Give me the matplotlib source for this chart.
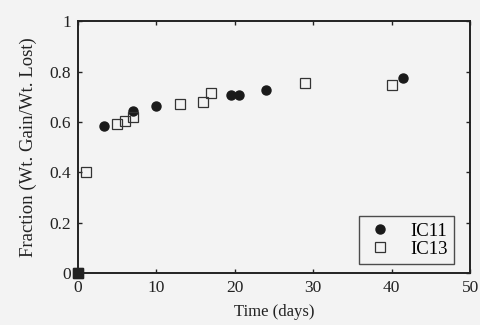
import matplotlib
matplotlib.use('Agg')
import matplotlib.pyplot as plt

# data
ic11_days = [0, 3.3, 7, 10, 19.5, 20.5, 24, 41.5]
ic11_frac = [0, 0.585, 0.645, 0.665, 0.705, 0.705, 0.725, 0.775]
ic13_days = [0, 1, 5, 6, 7, 13, 16, 17, 29, 40]
ic13_frac = [0, 0.40, 0.59, 0.605, 0.62, 0.67, 0.68, 0.715, 0.755, 0.745]

xticks = [0, 10, 20, 30, 40, 50]
yticks = [0, 0.2, 0.4, 0.6, 0.8, 1]
ytick_labels = ['0', '0.2', '0.4', '0.6', '0.8', '1']

plt.rcParams['font.family'] = ['Liberation Serif', 'DejaVu Serif']

bg = '#f3f3f3'
fig = plt.figure(figsize=(4.8, 3.25), dpi=100, facecolor=bg)
ax = fig.add_axes([0.1625, 0.16, 0.817, 0.775], facecolor=bg)

ax.plot(ic11_days, ic11_frac, 'o', color='#1a1a1a', markersize=6.5,
        linestyle='none', label='IC11', clip_on=False, zorder=3)
ax.plot(ic13_days, ic13_frac, 's', markerfacecolor='none', markeredgecolor='#333333',
        markeredgewidth=0.9, markersize=7.5, linestyle='none', label='IC13',
        clip_on=False, zorder=3)
# filled square at the origin
ax.plot([0], [0], 's', color='#222222', markersize=7, clip_on=False, zorder=4)

ax.set_xlim(0, 50)
ax.set_ylim(0, 1)
ax.set_xticks(xticks)
ax.set_yticks(yticks)
ax.set_yticklabels(ytick_labels)
ax.tick_params(direction='in', length=3, width=1, labelsize=12.5, colors='#222222',
               top=True, right=True, pad=5)
for s in ax.spines.values():
    s.set_linewidth(1.4)
    s.set_color('#222222')

ax.set_xlabel('Time (days)', fontsize=12, color='#222222', labelpad=6)
ax.set_ylabel('Fraction (Wt. Gain/Wt. Lost)', fontsize=13.5, color='#222222', labelpad=9)

leg = ax.legend(loc='lower right', fontsize=13.5, frameon=True, fancybox=False,
                handletextpad=0.8, borderpad=0.35, bbox_to_anchor=(0.96, 0.035),
                handlelength=1.6, labelspacing=0.05, borderaxespad=0)
leg.get_frame().set_edgecolor('#222222')
leg.get_frame().set_linewidth(1.0)
leg.get_frame().set_facecolor(bg)

fig.savefig('out.png', dpi=100, facecolor=bg)
